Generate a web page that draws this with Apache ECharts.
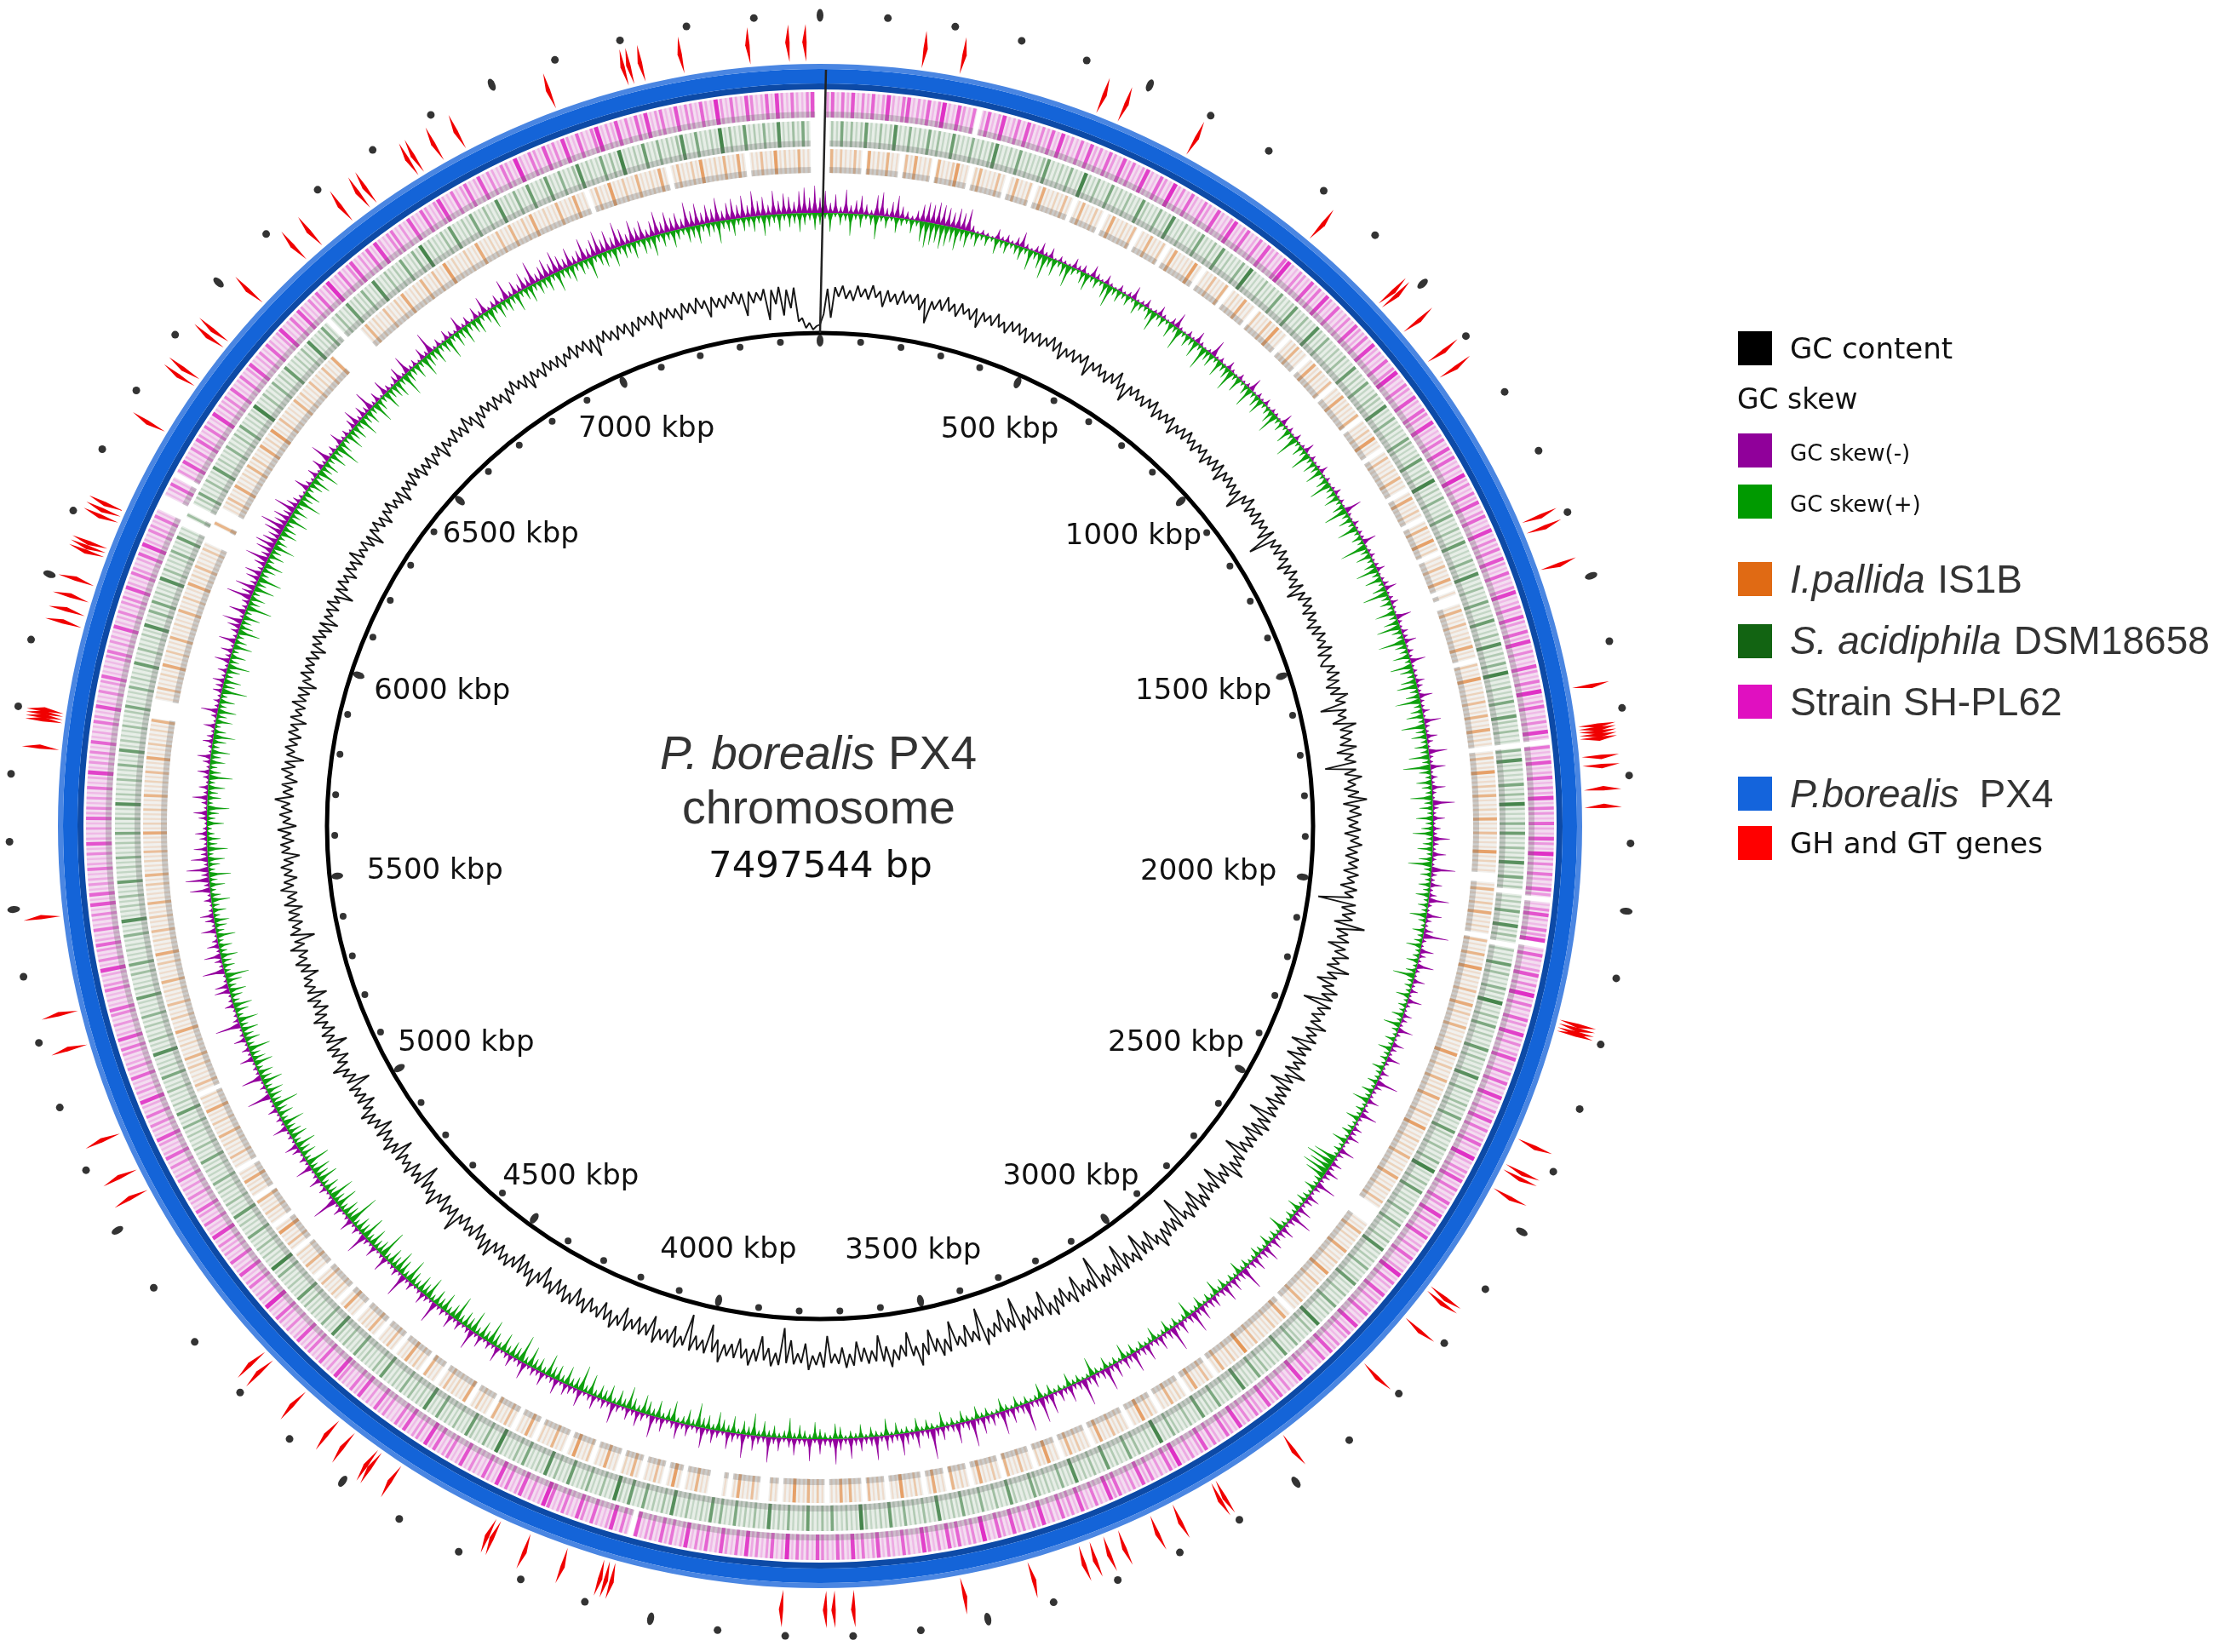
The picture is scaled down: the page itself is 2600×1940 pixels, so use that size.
<!DOCTYPE html>
<html>
<head>
<meta charset="utf-8">
<style>html,body{margin:0;padding:0;background:#fff}#chart{width:2600px;height:1940px}</style>
<script src="https://cdn.jsdelivr.net/npm/echarts@6/dist/echarts.min.js"></script>
</head>
<body>
<div id="chart"></div>
<script>
var TOTAL = 7497.544;
var kbpLabels = [500,1000,1500,2000,2500,3000,3500,4000,4500,5000,5500,6000,6500,7000];
// gene positions in kbp, split by the side the arrow bulges to
var genesCw = [159,219,441,477,596,829,977,985,1036,1096,1127,1388,1406,1467,1658,1719,1724,1729,1734,1739,1767,1781,2180,2186,2192,2377,2421,2430,2463,2645,2654,2708,2804,2973,3100,3108,3177,3216,3271,3296,3319,3337,3696,3726,3739,3806,4262,4270,4440,4477,4484,4529,4560,4629,4700,4718,5031,5067,5129,5277,5332,5482,5742,5784,5789,5794,5799,5936,5955,5977,6004];
var genesCcw = [1819,1846,2198,3421,3529,4072,4081,4090,4150,4212,6052,6059,6066,6110,6120,6130,6270,6355,6368,6430,6442,6523,6619,6652,6713,6747,6760,6838,6848,6884,6923,7077,7196,7205,7223,7285,7389,7450,7476];

// BLAST ring density per 8.33 kbp bin (60 bins = 500 kbp), 0 = no hit, 1-2 pale, 9 = strong
var ringPink = [
0,3,6,1,5,2,7,1,4,2,6,1,3,8,2,1,5,7,1,3,2,6,1,4,9,2,1,7,3,1,5,0,2,6,1,3,8,1,2,5,1,7,3,1,4,2,6,1,8,2,3,1,5,1,7,2,4,1,6,3,
1,7,2,5,1,3,8,2,1,6,3,1,9,2,4,1,6,2,1,5,3,1,7,2,1,4,8,1,3,6,1,2,5,1,7,2,3,1,6,9,2,1,4,3,1,7,2,5,1,8,3,1,6,1,2,4,1,7,3,2,
5,1,8,2,3,1,6,1,4,9,2,1,5,3,1,7,2,1,6,4,1,8,2,1,3,5,1,7,2,6,1,3,1,9,2,4,1,5,2,7,1,3,6,1,2,8,1,4,2,5,1,7,3,1,6,2,1,4,8,1,
2,5,1,7,3,1,6,2,8,1,4,2,1,7,3,1,5,2,9,1,3,6,1,2,4,1,8,2,0,5,1,3,7,1,2,6,1,4,2,8,1,5,3,1,6,2,1,7,3,1,9,2,4,1,5,2,1,6,3,0,
1,4,7,2,1,5,3,8,0,1,6,2,1,3,7,1,4,2,9,1,5,2,1,6,3,1,8,2,4,1,3,7,1,2,5,1,6,2,1,8,3,1,4,2,7,1,5,1,3,6,2,1,9,2,1,4,3,7,1,5,
2,1,6,3,1,8,2,5,1,3,7,1,2,4,1,6,2,1,3,9,1,5,2,1,7,2,4,1,3,6,1,2,8,1,5,3,1,4,2,7,1,6,2,1,3,5,1,8,2,1,4,1,6,3,2,7,1,3,5,1,
4,2,8,1,3,6,1,2,5,1,7,3,1,4,2,1,9,2,6,1,3,1,5,2,7,1,4,2,1,6,3,8,1,2,5,1,3,7,1,4,2,6,1,3,1,8,2,5,1,4,2,7,1,3,6,1,2,9,1,4,
3,1,6,2,7,1,4,1,5,8,2,1,3,6,1,2,4,1,7,3,1,5,2,8,1,3,6,1,2,4,7,1,3,2,5,1,9,2,1,6,3,1,4,2,8,1,5,1,3,7,2,1,6,2,4,1,8,3,1,5,
2,6,1,4,3,1,7,0,2,5,1,8,3,1,2,6,1,4,7,1,2,5,3,1,6,9,2,1,4,1,7,3,1,5,2,8,1,3,6,1,2,4,1,7,2,1,5,3,1,6,2,8,1,4,3,1,7,2,5,1,
1,4,2,6,1,3,1,7,2,5,1,2,4,8,1,3,1,6,2,1,5,3,1,7,2,1,4,1,3,6,1,2,9,1,4,2,1,5,3,1,7,2,1,6,1,3,2,4,1,8,2,1,5,1,3,6,1,2,4,1,
3,1,5,2,1,4,1,6,2,1,3,7,1,2,4,1,5,1,2,8,1,3,2,1,6,1,4,2,1,3,5,1,7,2,1,3,1,4,6,1,2,1,5,3,1,2,8,1,4,1,3,6,2,1,5,1,2,4,1,7,
1,6,1,3,2,1,5,2,1,4,1,7,2,1,3,1,6,2,4,1,3,1,5,1,2,8,1,3,2,4,1,6,1,2,1,5,3,1,7,2,1,4,1,3,6,1,2,1,4,5,1,3,2,1,7,1,2,4,1,3,
4,1,7,2,1,5,3,1,2,6,1,8,2,1,4,3,1,5,1,0,0,0,1,2,6,1,0,3,1,7,2,1,4,1,6,3,1,5,2,1,8,1,3,2,4,1,6,1,2,5,1,3,7,1,2,4,1,6,2,1,
3,8,1,2,5,1,7,3,1,4,2,6,1,3,9,1,2,5,1,4,7,1,3,2,6,1,8,2,1,4,5,1,3,1,7,2,1,6,3,1,4,8,2,1,5,1,3,6,1,2,7,1,4,2,1,5,3,1,9,2,
1,5,3,1,7,2,4,1,8,3,1,6,2,1,5,9,1,3,2,7,1,4,1,6,2,8,1,3,5,1,2,7,1,4,3,1,6,2,1,9,3,1,5,2,1,7,4,1,2,6,1,8,3,1,5,2,1,4,7,0];

var ringGreen = [
0,0,2,1,5,1,3,1,2,6,1,1,3,1,2,7,1,1,4,1,2,1,5,1,3,1,1,6,2,1,1,4,1,2,1,3,7,1,1,2,1,5,1,2,1,1,3,6,1,1,2,1,4,1,1,8,2,1,3,1,
1,5,1,2,1,3,1,1,6,2,1,1,4,1,2,7,1,1,3,1,1,2,5,1,1,3,1,6,1,2,1,1,4,1,8,2,1,1,3,1,2,1,5,1,1,2,6,1,1,3,1,1,7,2,1,4,1,1,2,1,
3,1,1,6,1,2,1,5,1,1,3,2,1,7,1,1,4,1,2,1,1,5,3,1,1,2,6,1,1,3,1,8,1,2,1,4,1,1,2,5,1,1,3,1,2,6,1,1,1,4,1,2,7,1,1,3,1,1,5,2,
1,2,6,1,1,3,1,7,1,2,1,4,1,8,1,1,3,1,2,5,1,1,6,2,1,3,1,1,0,4,1,7,1,2,1,1,5,1,3,1,8,2,1,1,4,1,6,1,1,3,1,2,7,1,1,5,1,2,0,1,
2,1,5,1,1,7,1,3,1,0,2,1,1,6,1,3,1,1,4,2,1,8,1,1,3,1,5,1,2,1,1,6,1,3,1,1,2,7,1,1,4,1,1,3,2,1,5,1,1,6,2,1,1,3,1,1,4,1,8,1,
1,3,1,6,1,1,2,1,4,1,1,5,2,1,1,3,1,7,1,1,2,1,4,1,1,2,6,1,1,3,1,1,5,1,2,1,1,8,1,3,1,1,2,4,1,1,6,1,1,2,1,3,1,5,1,1,2,7,1,1,
3,1,1,5,1,2,1,6,1,1,3,1,1,2,4,1,1,8,1,2,1,1,3,1,5,1,1,2,1,6,1,1,3,1,2,1,7,1,1,4,1,1,2,1,3,5,1,1,1,2,6,1,1,3,1,1,4,1,2,1,
5,1,2,1,1,7,1,1,3,1,2,1,4,1,1,6,1,2,1,1,3,8,1,1,2,1,1,5,1,3,1,1,6,2,1,1,4,1,2,1,7,1,1,3,1,2,1,5,1,1,4,1,6,1,2,1,1,3,1,1,
7,1,3,1,2,1,5,1,1,6,1,2,8,1,1,3,1,1,4,2,1,1,6,1,1,3,1,7,1,2,1,1,5,1,3,1,1,2,8,1,1,4,1,1,2,6,1,1,3,1,2,1,5,1,1,7,1,2,1,3,
1,4,1,2,1,1,6,1,3,1,1,2,1,5,1,1,3,1,2,7,1,1,4,1,1,2,1,3,1,6,1,1,2,1,1,4,1,8,1,1,2,1,3,1,1,5,1,1,2,1,6,1,1,3,1,1,2,1,4,1,
1,2,1,5,1,1,3,1,1,2,1,4,1,1,6,1,2,1,1,3,1,1,5,1,2,1,1,7,1,1,3,1,1,2,1,4,1,1,1,6,1,2,1,1,3,1,5,1,1,2,1,1,4,1,1,7,1,1,2,1,
3,1,1,6,1,1,2,1,4,1,1,2,1,5,1,1,3,1,1,7,1,2,1,1,3,1,1,4,1,1,6,1,2,1,1,3,1,1,2,5,1,1,1,4,1,2,1,1,6,1,1,3,1,1,2,1,7,1,1,4,
1,5,1,2,1,1,7,1,3,1,1,2,4,1,1,6,1,1,0,0,3,0,0,1,2,5,1,1,3,1,1,6,1,2,1,1,4,1,1,3,1,5,1,1,2,1,8,1,1,3,1,1,4,1,2,1,6,1,1,2,
1,3,1,7,1,1,2,5,1,0,1,3,1,1,6,1,2,1,4,1,1,7,1,1,3,1,2,1,5,1,1,4,1,8,1,2,1,1,3,1,6,1,1,2,1,5,1,1,3,1,1,7,1,2,1,4,1,1,6,1,
1,2,6,1,1,4,1,1,3,7,1,2,1,1,5,1,3,1,8,1,1,2,1,6,1,1,4,1,2,1,3,7,1,1,5,1,1,2,1,8,1,3,1,1,6,1,2,1,4,1,1,7,1,1,3,1,5,1,0,0];

var ringOrange = [
0,0,5,1,3,1,1,4,1,0,6,1,2,1,5,1,1,0,4,1,6,1,1,2,0,5,1,1,3,7,1,1,0,2,5,1,1,1,4,1,0,1,5,1,1,3,0,1,6,1,1,2,1,4,1,0,1,5,1,1,
3,1,0,1,6,1,1,2,1,4,0,1,1,5,1,1,3,0,1,6,1,1,1,2,7,1,0,1,1,4,1,1,5,0,1,2,1,6,1,1,0,3,1,1,4,1,7,1,1,0,1,2,5,1,1,0,1,6,1,3,
1,1,4,0,1,1,6,1,2,1,1,5,0,1,1,3,1,7,1,1,0,1,4,1,1,2,1,5,1,1,0,1,6,1,1,3,1,0,1,5,1,1,7,1,2,0,1,1,4,1,1,6,1,0,1,0,0,1,5,1,
1,4,1,1,2,1,6,1,1,0,3,1,1,7,1,1,2,1,4,1,1,5,1,1,6,1,2,1,0,1,4,1,1,7,1,1,3,1,5,1,1,2,1,6,1,1,4,1,1,1,7,1,2,1,1,0,0,1,5,1,
1,3,1,6,1,1,2,1,0,4,1,1,5,1,1,7,1,2,1,1,4,1,1,6,1,3,1,1,5,1,1,2,1,1,7,1,1,3,1,1,5,1,2,1,6,1,1,1,4,1,1,7,1,1,3,1,2,1,5,1,
1,2,1,6,1,1,3,1,1,4,1,0,0,0,0,1,1,5,1,2,1,1,6,1,1,3,1,1,7,1,1,4,1,2,1,1,5,1,1,0,1,6,1,1,3,1,1,2,1,4,1,1,8,1,1,3,1,1,5,1,
0,1,4,1,1,6,1,0,1,2,1,5,1,1,0,1,3,1,7,1,1,0,1,2,1,4,1,1,6,1,0,1,1,3,1,5,1,0,1,1,7,1,2,0,1,1,4,1,1,5,0,1,3,1,1,6,1,0,1,2,
1,5,0,1,1,6,1,0,1,3,1,1,7,1,1,0,1,2,1,4,0,1,1,5,1,6,1,1,0,1,3,1,5,1,1,7,1,1,0,1,2,0,0,1,4,1,1,6,1,0,1,0,0,0,1,1,5,1,1,0,
1,7,1,0,1,4,1,1,0,1,5,1,2,0,1,1,6,1,1,0,3,1,1,7,1,0,1,1,5,1,1,2,0,1,6,1,1,0,1,4,1,1,5,0,1,1,3,1,0,6,1,1,2,1,4,1,0,1,1,5,
0,1,3,1,6,1,1,0,1,4,1,1,0,1,5,1,2,1,0,1,1,6,1,0,1,3,1,1,4,1,0,1,1,5,1,1,2,0,1,4,1,1,7,1,0,1,1,3,1,1,5,0,1,2,1,6,1,1,0,1,
1,4,1,1,2,1,5,1,1,3,1,1,6,1,1,2,0,1,4,1,1,1,3,1,5,1,1,2,1,1,6,1,1,3,1,1,4,1,1,2,1,5,1,1,1,3,1,6,1,1,2,1,4,1,1,3,1,1,5,1,
1,1,3,1,5,1,1,2,1,4,1,1,1,6,1,2,1,1,3,1,1,5,1,1,2,1,4,1,1,6,1,1,3,1,1,2,1,5,0,0,0,0,1,1,4,1,1,2,1,6,1,1,3,1,1,5,1,1,2,1,
1,5,1,1,3,1,1,6,1,2,1,4,1,1,1,3,1,0,0,0,0,5,0,0,0,1,2,4,1,1,6,1,1,2,1,5,1,3,1,1,6,1,2,1,7,1,1,4,1,2,1,1,5,1,3,1,1,4,1,2,
1,4,1,1,6,0,0,0,0,0,0,0,0,1,5,1,2,1,1,4,1,1,3,1,6,1,1,2,1,5,1,1,4,1,1,7,1,2,1,1,3,1,1,6,1,1,2,1,4,1,1,5,1,1,3,1,6,1,1,2,
1,1,5,1,1,2,6,1,1,0,1,4,1,1,7,1,1,3,1,1,5,1,1,2,1,6,1,0,1,4,1,1,3,1,7,1,1,2,1,5,1,1,6,1,0,1,1,4,1,1,7,1,2,1,1,5,1,1,0,0];

// GC content, offset from the ring's mean per 8.33 kbp bin
var gcContent = [
-38,-26,4,-30,6,-5,8,-7,3,-9,9,-4,6,-6,11,-3,5,-13,7,-6,4,-8,9,-5,6,-4,8,-10,5,-24,3,-6,7,-5,12,-4,6,-8,9,-3,5,-7,8,-14,6,-4,5,-6,10,-5,3,-9,7,-4,8,-5,6,-11,4,-6,
7,-8,5,-4,10,-6,8,-12,4,-5,7,-7,6,-3,9,-15,5,-4,8,-6,4,-9,6,-5,13,-7,4,-17,6,-4,8,-5,5,-7,7,-3,10,-9,5,-6,6,-4,8,-12,4,-5,7,-6,9,-4,5,-8,6,-3,7,-10,5,-5,8,-6,
9,-12,6,-4,7,-6,5,-9,4,-20,6,-4,11,-7,5,-5,8,-9,6,-4,5,-12,8,-28,5,-5,7,-6,9,-4,6,-11,5,-7,8,-5,4,-9,7,-16,5,-6,9,-4,6,-8,7,-5,4,-10,6,-7,8,-4,5,-6,10,-9,6,-5,
-10,6,-5,9,-7,6,-11,5,-8,12,-4,7,-24,6,-5,4,-13,14,-6,8,-7,5,-9,10,-14,5,-6,7,-30,6,-8,12,-5,4,-10,7,-6,16,-12,7,-5,9,-8,5,-6,8,-11,6,-4,10,-7,5,-9,7,-5,6,-10,8,-5,4,
-12,8,-6,5,-36,9,-7,10,-5,8,-13,24,-9,6,-6,9,-15,7,-5,13,-6,4,-10,18,-7,6,-17,5,-8,12,-6,9,-25,10,-5,6,-9,4,-7,14,-10,6,-5,9,-20,7,-9,4,-18,8,-6,5,-12,16,-8,5,-22,7,-10,6,
-7,9,-14,5,-6,8,-25,6,-9,10,-12,7,-18,5,-8,6,-10,4,-24,7,-6,9,-5,18,-12,5,-7,8,-22,6,-8,4,-16,7,-6,10,-20,6,-11,9,-5,4,-30,8,-9,6,-12,7,-8,14,-6,5,-18,6,-10,5,-25,8,-6,4,
-12,7,-28,6,-8,5,-14,8,-5,9,-33,6,-9,5,-7,6,-22,9,-7,4,-16,6,-11,12,-6,8,-24,5,-8,6,-13,7,-6,12,-30,5,-8,7,-22,4,-9,7,-5,14,-32,6,-7,5,-17,8,-6,4,-26,9,-7,12,-10,5,-22,7,
-8,18,-6,5,-24,4,-10,7,-6,14,-11,6,-25,5,-8,7,-12,4,-20,8,-6,10,-14,5,-7,4,-28,9,-9,6,-5,12,-19,4,-7,6,-22,5,-36,8,-6,10,-11,4,-24,6,-8,12,-7,5,-18,6,-10,5,-8,14,-12,4,
-28,7,-8,5,-11,8,-34,4,-6,9,-16,6,-9,5,-7,11,-20,5,-8,7,-13,4,-7,9,-18,6,-5,12,-8,6,-14,7,-5,4,-12,10,-7,5,-16,7,-5,9,-11,4,-14,8,-6,5,-20,4,-8,14,-7,6,-12,7,-16,5,-7,9,
-5,7,-11,4,-8,14,-6,12,-8,5,-14,7,-5,6,-11,4,-7,20,-9,5,-6,9,-13,4,-7,14,-5,6,-10,5,-24,8,-6,5,-12,9,-5,4,-8,7,-20,6,-7,11,-6,5,-10,8,-16,5,-6,9,-5,12,-7,4,-14,6,-8,5,
-6,7,-22,5,-9,6,-5,14,-7,4,-12,7,-5,9,-18,6,-6,8,-10,4,-5,11,-7,6,-12,5,-6,9,-16,6,-5,7,-4,5,-14,6,-7,10,-5,4,-8,12,-6,5,-20,8,-5,4,-9,7,-7,5,-12,9,-6,4,-8,11,-5,6,
-10,5,-5,8,-7,4,-15,6,-4,7,-9,5,-6,10,-12,4,-5,8,-7,6,-4,14,-8,5,-6,7,-11,4,-5,9,-7,6,-16,5,-4,8,-6,5,-9,7,-4,6,-12,8,-5,4,-7,10,-6,5,-8,7,-14,4,-5,9,-6,6,-4,8,
-7,5,-12,6,-4,9,-6,5,-10,7,-14,5,-4,6,-8,9,-5,4,-18,6,-7,8,-4,5,-10,7,-5,6,-8,12,-6,4,-5,7,-9,5,-16,6,-4,8,-7,5,-11,6,-4,9,-6,4,-8,7,-13,5,-5,6,-7,10,-4,8,-9,5,
-6,7,-10,5,-4,8,-13,6,-5,4,-7,9,-6,5,-8,11,-4,6,-15,5,-7,8,-4,6,-9,7,-5,4,-12,6,-6,10,-4,5,-8,7,-14,6,-5,4,-9,8,-6,5,-7,6,-11,4,-5,9,-8,6,-4,7,-10,5,-18,6,-5,8,
-6,4,-9,7,-5,6,-12,5,-8,8,-4,6,-7,9,-14,5,-5,7,-6,4,-11,8,-5,6,-8,10,-4,5,-16,7,-6,4,-9,6,-5,8,-7,5,-22,6,-8,4,-6,7,-30,5,-12,8,-26,4,-18,6,-34,-30,-42,-36,-44,-40];

// GC skew spike heights per 10 kbp bin (50 bins = 500 kbp), outward (-) and inward (+)
var skewMinus = [
18,26,12,22,8,28,10,16,22,12,6,24,28,10,18,26,14,9,5,12,20,24,22,26,24,22,18,24,20,26,8,3,6,4,2,12,5,9,4,10,18,6,3,8,14,5,12,2,7,4,
3,12,6,9,2,14,7,3,11,4,2,8,3,6,16,3,5,10,2,4,12,5,2,8,18,4,2,7,3,14,5,2,4,20,3,6,2,10,4,2,7,3,5,16,2,6,3,8,2,5,
4,2,14,3,6,2,8,2,4,12,2,6,3,4,10,2,5,2,4,8,3,5,2,20,4,2,7,3,5,4,16,2,4,6,3,5,10,2,4,7,14,3,5,9,4,2,18,5,3,8,
6,14,3,7,4,18,3,5,4,11,7,4,16,5,4,9,3,20,6,4,13,7,3,22,5,4,18,3,8,4,16,5,3,26,7,4,14,3,9,5,20,7,4,16,5,3,28,7,5,14,
4,9,24,5,3,18,7,4,11,30,5,3,16,8,4,20,5,3,14,4,9,3,17,5,3,11,7,4,18,5,3,14,7,4,16,5,3,10,4,26,9,5,4,14,3,7,20,5,4,11,
7,14,5,3,18,8,4,13,7,16,9,5,24,8,4,15,10,5,17,8,26,9,5,16,10,7,14,5,20,11,7,17,9,5,28,10,8,16,7,20,9,5,14,11,7,18,9,26,10,5,
16,8,30,11,7,17,9,5,20,10,7,24,9,14,5,18,8,28,11,7,16,9,32,10,7,20,8,14,5,24,10,30,9,7,34,11,8,18,9,28,7,14,10,20,8,32,11,7,24,9,
7,16,10,36,11,7,20,9,14,26,8,10,18,7,28,11,8,16,9,24,7,14,30,10,8,18,5,26,9,7,20,11,5,16,8,30,7,10,18,5,28,7,11,20,5,9,16,7,24,8,
5,14,7,20,9,5,16,8,26,5,10,18,7,14,5,9,24,7,11,5,16,8,5,20,7,10,14,5,18,7,5,16,7,10,5,20,8,5,14,7,4,18,5,9,4,14,5,24,7,4,
11,5,16,4,8,5,26,4,7,14,5,3,10,5,28,4,9,5,3,18,5,3,14,4,7,26,3,9,4,16,5,3,11,4,30,5,3,9,4,14,5,3,20,4,8,3,10,16,3,5,
3,18,4,7,3,11,4,3,28,3,7,3,24,4,5,3,16,4,9,3,14,5,3,30,7,4,3,11,5,3,18,16,4,3,26,5,9,20,4,14,7,3,18,4,11,16,5,3,9,4,
24,7,28,9,26,5,20,8,16,4,9,14,5,3,10,16,4,7,18,5,11,3,7,14,4,9,16,3,5,12,8,4,14,3,7,20,5,8,4,11,9,14,5,11,4,18,7,14,4,20,
5,10,16,24,5,20,7,9,30,14,24,9,16,20,7,14,28,11,20,24,18,14,22,30,16,20,11,26,14,9,5,3,18,7,4,12,3,14,5,24,4,9,3,16,5,8,3,12,20,6,
14,8,24,5,12,3,18,7,4,10,16,4,22,5,8,3,14,6,26,4,9,3,12,7,4,18,5,10,3,14,6,20,4,8,12,5,24,7,16,9,20,12,28,10,16,22,14,26,18,12,
22,10,14,26,12,20,28,16,24,14,30,20,12,26,16,22,10,18,28,14,24,16,20,12,30,18,26,14,22,16,28,12,20,24,16,26,14,30,18,22,12,28,16,24,20,14,26,30,18,32];

var skewPlus = [
14,7,22,5,14,9,26,7,16,6,12,28,7,14,5,18,9,6,16,7,24,30,26,22,28,24,18,26,14,20,9,16,7,12,5,18,9,14,6,11,16,7,24,9,18,28,12,20,7,16,
26,9,5,14,20,7,12,6,18,26,9,14,7,12,5,16,9,6,14,24,7,12,5,18,8,26,6,14,9,20,7,28,12,16,6,20,9,14,26,7,18,5,12,24,7,14,20,6,9,16,
26,7,12,5,18,8,28,6,14,9,24,7,16,10,20,6,14,26,8,12,18,6,14,28,9,16,7,24,6,12,8,32,10,18,7,14,26,9,20,6,16,30,10,14,7,24,9,18,28,12,
8,32,14,10,20,7,26,16,9,18,24,10,16,30,9,14,20,7,28,12,18,8,16,10,24,9,32,14,7,18,12,8,26,10,16,7,20,9,14,24,8,12,18,7,16,28,9,13,7,14,
8,16,6,12,7,20,9,5,14,7,10,18,6,8,14,5,12,26,7,9,6,16,5,10,7,14,6,20,8,5,12,6,16,7,9,5,14,7,6,12,5,14,7,20,5,10,6,16,5,8,
12,5,18,6,9,5,28,34,26,32,24,9,6,14,5,8,12,5,16,6,10,5,7,20,5,9,6,14,5,8,12,6,5,10,6,16,5,8,4,12,6,18,5,9,4,14,6,5,20,7,
4,10,5,14,6,4,16,7,5,9,4,12,6,18,4,8,5,14,4,7,22,5,4,9,6,16,4,7,5,12,4,18,6,4,9,5,13,4,7,16,5,4,10,6,15,4,7,14,4,9,
5,18,4,7,12,5,16,4,8,6,14,4,20,5,7,12,4,16,6,9,4,14,18,5,8,12,20,6,10,16,7,24,9,6,14,8,18,7,26,10,16,6,20,9,14,22,7,16,12,28,
8,18,9,6,24,14,7,20,9,16,22,8,14,26,10,18,7,20,12,16,8,24,9,30,14,10,22,9,18,14,26,8,16,12,24,9,32,14,18,10,22,8,16,28,12,20,9,26,14,18,
10,30,16,9,22,12,18,8,26,14,20,10,16,28,9,18,26,14,20,9,34,16,12,22,10,28,14,18,9,38,16,20,10,26,14,30,12,18,9,24,16,22,10,28,8,18,14,24,9,20,
16,12,26,9,18,14,30,12,16,20,9,24,14,18,8,22,16,12,26,9,18,13,20,10,24,8,16,22,9,14,20,10,18,28,8,14,12,20,9,16,7,22,10,14,18,8,16,9,22,12,
7,18,10,26,8,14,20,7,24,12,16,9,6,20,10,14,26,7,16,12,20,8,28,14,9,18,12,22,9,16,26,14,7,20,12,22,10,18,8,30,14,20,9,16,26,12,18,8,22,14,
9,26,16,12,20,8,30,14,18,9,24,12,28,10,16,22,9,18,12,26,14,8,20,16,10,24,12,18,9,28,14,20,8,16,22,10,26,14,18,9,20,12,30,16,8,22,14,18,10,24,
12,18,9,26,14,8,22,12,16,20,9,28,14,10,18,8,24,16,12,20,9,14,26,8,18,12,22,10,16,20,8,14,24,9,18,12,16,10,22,8,14,20,9,16,12,18,8,24,10,14,
20,9,16,12,26,8,14,18,10,22,9,16,12,20,8,18,14,24,9,16,10,20,12,8,18,14,22,9,16,12,26,10,14,20,8,16,12,18,9,24,14,10,20,8,16,12,22,14,9,20];

// where the kbp labels sit: radius and genome position of the text centre
var labelRadius = [513,503,478,459,488,504,508,507,503,486,455,472,501,511];
var labelAngle = [506,979,1465,2008,2521,3004,3490,4004,4490,4973,5492,6038,6530,7008];
var legendRows = [
  {y:409, dy:3, color:'#000000', text:'GC content', size:34},
  {y:529, dy:5, color:'#90009a', text:'GC skew(-)', size:26},
  {y:589, dy:5, color:'#009a00', text:'GC skew(+)', size:26},
  {y:680, dy:3, color:'#e06a14', text:'{i|I.pallida} {n|IS1B}', size:46},
  {y:753, dy:2, color:'#126412', text:'{i|S. acidiphila} {n|DSM18658}', size:46},
  {y:824, dy:3, color:'#e010c0', text:'{n|Strain SH-PL62}', size:46},
  {y:932, dy:3, color:'#1464dc', text:'{i|P.borealis} {n|\u2009PX4}', size:46},
  {y:990, dy:3, color:'#ff0000', text:'GH and GT genes', size:34}
];

function wedge(api, r0, r1, a0, a1) {
	return [api.coord([r0, a0]), api.coord([r1, a0]), api.coord([r1, a1]), api.coord([r0, a1])];
}
function ringSeries(arr, r0, r1, stripe, pale) {
	var bin = TOTAL / arr.length;
	var rows = arr.map(function (v, i) { return [v, i * bin]; });
	return {
		type: 'custom', coordinateSystem: 'polar', polarIndex: 0, silent: true, data: rows,
		renderItem: function (params, api) {
			var v = api.value(0), a = api.value(1);
			if (v === 0) return null;
			var w = bin * (0.34 + v * 0.055);
			var kids = [
				{type: 'polygon', shape: {points: wedge(api, r0, r1, a, a + bin)}, style: {fill: pale}},
				{type: 'polygon', shape: {points: wedge(api, r0, r1, a + bin * 0.5 - w / 2, a + bin * 0.5 + w / 2)},
					style: {fill: stripe, opacity: 0.08 + v * 0.085}},
				{type: 'polygon', shape: {points: wedge(api, r0, r0 + 7, a, a + bin)}, style: {fill: 'rgba(110,110,110,0.3)'}}
			];
			return {type: 'group', children: kids};
		}
	};
}
function skewSeries(arr, base, dir, color) {
	var bin = TOTAL / arr.length;
	return {
		type: 'custom', coordinateSystem: 'polar', polarIndex: 0, silent: true,
		data: arr.map(function (v, i) { return [v, i * bin]; }),
		renderItem: function (params, api) {
			var v = api.value(0), a = api.value(1);
			return {type: 'polygon', shape: {points: [
				api.coord([base, a - bin * 0.6]), api.coord([base + dir * v * 0.4, a - bin * 0.2]), api.coord([base + dir * v, a - bin * 0.04]),
				api.coord([base + dir * v, a + bin * 0.04]), api.coord([base + dir * v * 0.4, a + bin * 0.2]), api.coord([base, a + bin * 0.6])
			]}, style: {fill: color}};
		}
	};
}
function geneSeries(list, side) {
	return {
		type: 'custom', coordinateSystem: 'polar', polarIndex: 0, silent: true,
		data: list.map(function (k) { return [920, k]; }),
		renderItem: function (params, api) {
			var a = api.value(1);
			return {type: 'polygon', shape: {points: [
				api.coord([898, a]), api.coord([921, a + side * 5.5]), api.coord([942, a]), api.coord([921, a - side * 1.2])
			]}, style: {fill: '#f00000'}};
		}
	};
}
function tickDots(radius, size, bigW, bigH) {
	var small = [], big = [];
	for (var k = 0; k < TOTAL; k += 100) {
		if (k % 500 === 0) big.push([radius, k]); else small.push([radius, k]);
	}
	return [
		{type: 'scatter', coordinateSystem: 'polar', polarIndex: 0, silent: true, symbol: 'circle', symbolSize: size, itemStyle: {color: '#000'}, data: small},
		{type: 'scatter', coordinateSystem: 'polar', polarIndex: 0, silent: true, symbol: 'circle', symbolSize: [bigW, bigH], itemStyle: {color: '#000'}, data: big,
			symbolRotate: function (v) { return -v[1] / TOTAL * 360; }}
	];
}

var bands = [[865, 872, '#0d4aa6'], [872, 889, '#1464d8'], [889, 895, '#4a86e2']];
var series = [{
	type: 'custom', coordinateSystem: 'polar', polarIndex: 0, silent: true, data: bands.map(function (b) { return [b[0], b[1]]; }),
	renderItem: function (params, api) {
		var c = api.coord([0, 0]);
		return {type: 'ring', shape: {cx: c[0], cy: c[1], r: api.value(1), r0: api.value(0)}, style: {fill: bands[params.dataIndex][2]}};
	}
}];
series.push(ringSeries(ringPink, 832, 862, '#dc10bc', 'rgba(232,185,226,0.5)'));
series.push(ringSeries(ringGreen, 798, 828, '#14641c', 'rgba(200,214,200,0.45)'));
series.push(ringSeries(ringOrange, 767, 795, '#e07a28', 'rgba(225,222,216,0.45)'));
series.push(skewSeries(skewMinus, 720, 1, '#94009e'));
series.push(skewSeries(skewPlus, 720, -1, '#0ea00e'));
var gcBin = TOTAL / gcContent.length;
var gcLine = gcContent.map(function (v, i) { return [627 + v, i * gcBin]; });
gcLine.push(gcLine[0]);
series.push({type: 'line', coordinateSystem: 'polar', polarIndex: 0, silent: true, symbol: 'none', data: gcLine, lineStyle: {color: '#161616', width: 1.9}});
series.push({type: 'line', coordinateSystem: 'polar', polarIndex: 0, silent: true, symbol: 'none', data: [[579, 0], [888, 9.4]], lineStyle: {color: '#222', width: 2.5}, z: 5});
series.push(geneSeries(genesCw, 1));
series.push(geneSeries(genesCcw, -1));
series = series.concat(tickDots(952, 9, 8, 15)).concat(tickDots(570, 8, 8, 14));
series.push({
	type: 'custom', coordinateSystem: 'polar', polarIndex: 0, silent: true,
	data: kbpLabels.map(function (k, i) { return [labelRadius[i], labelAngle[i]]; }),
	renderItem: function (params, api) {
		var p = api.coord([api.value(0), api.value(1)]);
		return {type: 'text', x: p[0], y: p[1] + 3, style: {text: kbpLabels[params.dataIndex] + ' kbp', textAlign: 'center', textVerticalAlign: 'middle',
			fontFamily: 'DejaVu Sans', fontSize: 34, fill: '#111'}};
	}
});

var rich = function (size) {
	return {
		i: {fontFamily: 'Liberation Sans', fontStyle: 'italic', fontSize: size, fill: '#333'},
		n: {fontFamily: 'Liberation Sans', fontSize: size, fill: '#333'}
	};
};
var graphics = [];
legendRows.forEach(function (row) {
	graphics.push({type: 'rect', left: 2041, top: row.y - 20, shape: {width: 40, height: 40}, style: {fill: row.color}});
	graphics.push({type: 'text', left: 2102, top: row.y - row.size * 0.5 + row.dy, style: {text: row.text,
		fontFamily: 'DejaVu Sans', fontSize: row.size, fill: '#111', rich: rich(row.size)}});
});
graphics.push({type: 'text', left: 2040, top: 455, style: {text: 'GC skew', fontFamily: 'DejaVu Sans', fontSize: 33, fill: '#111'}});
graphics.push({type: 'text', left: 775, top: 860, style: {text: '{i|P. borealis}{n|\u00a0PX4}', rich: rich(55)}});
graphics.push({type: 'text', left: 801, top: 924, style: {text: 'chromosome', fontFamily: 'Liberation Sans', fontSize: 55.5, fill: '#333'}});
graphics.push({type: 'text', left: 832, top: 997, style: {text: '7497544 bp', fontFamily: 'DejaVu Sans', fontSize: 43.5, fill: '#111'}});

var chart = echarts.init(document.getElementById('chart'), null, {renderer: 'canvas'});
chart.setOption({
	animation: false,
	backgroundColor: '#fff',
	polar: [{center: [963, 970], radius: 960}, {center: [963, 970], radius: 579}],
	angleAxis: [
		{polarIndex: 0, type: 'value', min: 0, max: TOTAL, startAngle: 90, show: false},
		{polarIndex: 1, type: 'value', min: 0, max: TOTAL, startAngle: 90, axisLine: {show: true, lineStyle: {color: '#000', width: 5}},
			axisTick: {show: false}, axisLabel: {show: false}, splitLine: {show: false}}
	],
	radiusAxis: [
		{polarIndex: 0, type: 'value', min: 0, max: 960, show: false},
		{polarIndex: 1, type: 'value', min: 0, max: 579, show: false}
	],
	graphic: graphics,
	series: series
});
</script>
</body>
</html>
